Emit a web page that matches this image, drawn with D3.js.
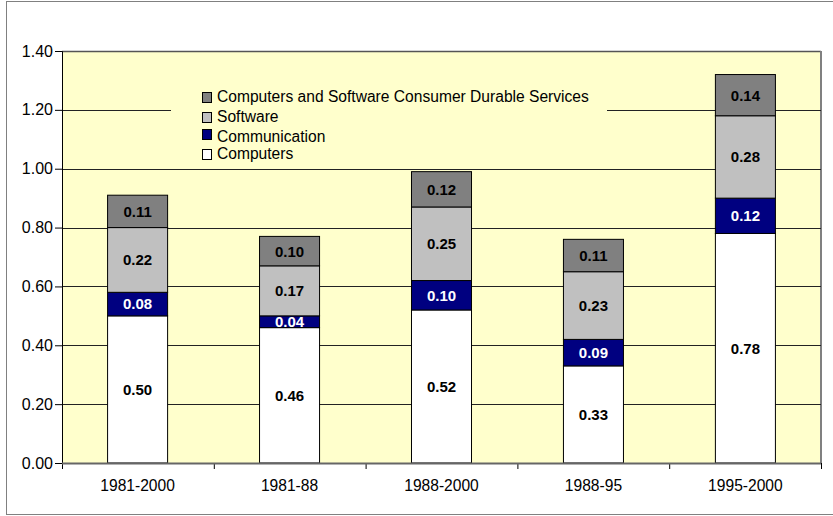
<!DOCTYPE html>
<html lang="en">
<meta charset="UTF-8">
<title>ICT contribution</title>
<script src="https://d3js.org/d3.v7.min.js"></script>
<style>
  body { margin: 0; background: #fff; }
  text { font-family: "Liberation Sans", Arial, sans-serif; }
</style>
<body>
<svg id="canvas"></svg>
<script>
// data
let periods = ['1981-2000', '1981-88', '1988-2000', '1988-95', '1995-2000']
let computers = [0.50, 0.46, 0.52, 0.33, 0.78]
let communication = [0.08, 0.04, 0.10, 0.09, 0.12]
let software = [0.22, 0.17, 0.25, 0.23, 0.28]
let services = [0.11, 0.10, 0.12, 0.11, 0.14]
let seriesNames = ['Computers', 'Communication', 'Software', 'Computers and Software Consumer Durable Services']
let yTicks = [0, 0.2, 0.4, 0.6, 0.8, 1.0, 1.2, 1.4]

let width = 833
let height = 516
let plotL = 62, plotR = 821, plotT = 51, plotB = 463
let colors = ['#ffffff', '#000080', '#c0c0c0', '#808080']
let labelColors = ['#000', '#fff', '#000', '#000']

let canvas = d3.select('#canvas').attr('width', width).attr('height', height)

// outer frame (right side runs off the picture)
canvas.append('rect')
  .attr('x', 6.5).attr('y', 1.5).attr('width', 840).attr('height', 513)
  .attr('fill', '#fff').attr('stroke', '#808080')

// table built from the arrays
let table = periods.map((p, i) => ({
  period: p, s0: computers[i], s1: communication[i], s2: software[i], s3: services[i]
}))
let stack = d3.stack().keys(['s0', 's1', 's2', 's3'])(table)

let xScale = d3.scaleBand().domain(periods).range([plotL, plotR]).paddingInner(0.605).paddingOuter(0.3)
let yScale = d3.scaleLinear().domain([0, 1.4]).range([plotB, plotT])

// plot area
canvas.append('rect')
  .attr('x', plotL).attr('y', plotT).attr('width', plotR - plotL).attr('height', plotB - plotT)
  .attr('fill', '#ffffcc')
canvas.append('line').attr('x1', plotL).attr('x2', plotR).attr('y1', plotT + 0.5).attr('y2', plotT + 0.5)
  .attr('stroke', '#555').attr('stroke-width', 1.5)
canvas.append('line').attr('x1', plotR).attr('x2', plotR).attr('y1', plotT).attr('y2', plotB)
  .attr('stroke', '#808080').attr('stroke-width', 2)

// gridlines
canvas.append('g').selectAll('line')
  .data(yTicks.slice(1, -1))
  .enter().append('line')
  .attr('x1', plotL).attr('x2', plotR)
  .attr('y1', d => Math.round(yScale(d)) + 0.5).attr('y2', d => Math.round(yScale(d)) + 0.5)
  .attr('stroke', '#222')

// legend box hides part of the grid
let legend = canvas.append('g')
legend.append('rect').attr('x', 171).attr('y', 84).attr('width', 436).attr('height', 80).attr('fill', '#ffffcc')
let legendRows = [3, 2, 1, 0]
let legendY = [97, 117, 137, 154]
legendRows.forEach((s, k) => {
  let sy = k == 2 ? 129 : legendY[k] - 5
  legend.append('rect')
    .attr('x', 202.5).attr('y', sy + 0.5).attr('width', 9).attr('height', 10)
    .attr('fill', colors[s]).attr('stroke', '#000')
  legend.append('text')
    .attr('x', 217).attr('y', legendY[k]).attr('dy', '0.35em')
    .attr('font-size', 15.6).text(seriesNames[s])
})

// bars
stack.forEach((layer, s) => {
  let g = canvas.append('g')
  g.selectAll('rect')
    .data(layer)
    .enter().append('rect')
    .attr('x', d => xScale(d.data.period))
    .attr('width', xScale.bandwidth())
    .attr('y', d => yScale(d[1]))
    .attr('height', d => yScale(d[0]) - yScale(d[1]))
    .attr('fill', colors[s])
    .attr('stroke', '#000').attr('stroke-width', 1)
  g.selectAll('text')
    .data(layer)
    .enter().append('text')
    .attr('x', d => xScale(d.data.period) + xScale.bandwidth() / 2)
    .attr('y', d => (yScale(d[0]) + yScale(d[1])) / 2)
    .attr('dy', '0.36em')
    .attr('text-anchor', 'middle')
    .attr('font-size', 15).attr('font-weight', 'bold')
    .attr('fill', labelColors[s])
    .text(d => (d[1] - d[0]).toFixed(2))
})

// axes
let yAxis = d3.axisLeft(yScale).tickValues(yTicks).tickFormat(d3.format('.2f')).tickSize(7).tickPadding(2)
let yg = canvas.append('g').attr('transform', 'translate(' + plotL + ',0)').call(yAxis)
yg.select('.domain').attr('stroke', '#000')
yg.selectAll('text').attr('font-size', 16).attr('font-family', '"Liberation Sans", Arial, sans-serif').attr('fill', '#000')

let xTickScale = d3.scaleLinear().domain([0, periods.length]).range([plotL, plotR])
let xAxis = d3.axisBottom(xTickScale).tickValues(d3.range(periods.length + 1)).tickFormat('').tickSize(6)
let xg = canvas.append('g').attr('transform', 'translate(0,' + plotB + ')').call(xAxis)
xg.select('.domain').attr('stroke', '#000')
canvas.append('line').attr('x1', plotL).attr('x2', plotR).attr('y1', plotB + 0.5).attr('y2', plotB + 0.5)
  .attr('stroke', '#666').attr('stroke-width', 2)

canvas.append('g').selectAll('text')
  .data(periods)
  .enter().append('text')
  .attr('x', d => xScale(d) + xScale.bandwidth() / 2)
  .attr('y', 491)
  .attr('text-anchor', 'middle')
  .attr('font-size', 15.6)
  .text(d => d)
</script>
</body>
</html>
